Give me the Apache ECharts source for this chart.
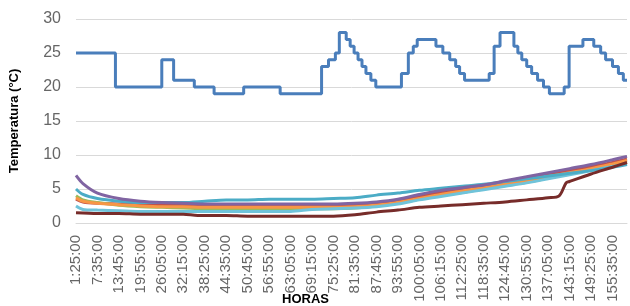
<!DOCTYPE html>
<html>
<head>
<meta charset="utf-8">
<script src="https://cdn.jsdelivr.net/npm/echarts@6/dist/echarts.min.js"></script>
<style>
  html, body { margin: 0; padding: 0; background: #fff; }
  #chart { width: 630px; height: 306px; }
</style>
</head>
<body>
<div id="chart"></div>
<script>
// time is minutes elapsed since 1:25:00
const startMinutes = 85;

// ambient / setpoint (stepped blue line)
const blueTimes = [0, 680, 1479, 1683, 2040, 2381, 2891, 3520, 4234, 4353, 4472, 4540, 4659, 4727, 4795, 4863, 4931, 4999, 5084, 5169,
    5611, 5730, 5815, 5883, 6206, 6325, 6444, 6546, 6614, 6699, 7124, 7209, 7311, 7550, 7618, 7686, 7771, 7856, 7958, 8060, 8162,
    8417, 8502, 8740, 8927, 9046, 9131, 9250, 9352, 9437, 9500];
const blueTemps = [25, 20, 24, 21, 20, 19, 20, 19, 23, 24, 25, 28, 27, 26, 25, 24, 23, 22, 21, 20,
    22, 25, 26, 27, 26, 25, 24, 23, 22, 21, 22, 26, 28, 26, 25, 24, 23, 22, 21, 20, 19,
    20, 26, 27, 26, 25, 24, 23, 22, 21, 21];

// product probes
const lowerTimes = [0, 120, 370, 740, 1110, 1480, 1850, 2220, 2590, 2960, 3330, 3700, 4070, 4440, 4810, 5180, 5550, 5920,
    6290, 6660, 7030, 7400, 7770, 8140, 8510, 8880, 9250, 9500];
const redTemps = [3.5, 3.1, 2.9, 2.8, 2.7, 2.6, 2.6, 2.6, 2.6, 2.6, 2.6, 2.6, 2.6, 2.6, 2.7, 2.9, 3.3, 3.9, 4.5, 5.0, 5.5, 6.0, 6.5, 7.1, 7.7, 8.3, 8.9, 9.4];
const greenTemps = [4.0, 3.4, 3.0, 2.6, 2.4, 2.3, 2.2, 2.1, 2.1, 2.1, 2.1, 2.1, 2.1, 2.1, 2.2, 2.5, 2.9, 3.5, 4.0, 4.5, 5.0, 5.5, 6.0, 6.6, 7.2, 7.8, 8.5, 9.0];
const orangeTemps = [3.7, 3.2, 2.9, 2.7, 2.5, 2.4, 2.4, 2.3, 2.3, 2.3, 2.3, 2.3, 2.3, 2.3, 2.4, 2.6, 3.0, 3.6, 4.2, 4.7, 5.2, 5.7, 6.2, 6.8, 7.4, 8.0, 8.7, 9.2];
const lightAquaTemps = [2.5, 2.0, 1.9, 1.8, 1.7, 1.7, 1.7, 1.7, 1.7, 1.7, 1.7, 1.7, 2.0, 2.1, 2.2, 2.4, 2.8, 3.4, 3.9, 4.4, 4.9, 5.4, 5.9, 6.5, 7.1, 7.7, 8.3, 8.7];
const aquaTemps = [5.0, 4.2, 3.6, 3.2, 3.0, 3.0, 3.0, 3.2, 3.4, 3.4, 3.5, 3.5, 3.5, 3.6, 3.7, 4.1, 4.4, 4.8, 5.1, 5.4, 5.7, 6.1, 6.5, 6.9, 7.3, 7.7, 8.2, 8.6];
const purpleTemps = [7.0, 5.8, 4.4, 3.6, 3.2, 3.0, 2.9, 2.8, 2.8, 2.8, 2.8, 2.8, 2.8, 2.8, 2.9, 3.1, 3.5, 4.2, 4.8, 5.2, 5.6, 6.2, 6.8, 7.4, 8.0, 8.6, 9.3, 9.8];

const darkRedTimes = [0, 370, 740, 1110, 1480, 1850, 2100, 2590, 2960, 3330, 3700, 4070, 4440, 4810, 5180, 5550, 5920, 6290,
    6660, 7030, 7400, 7770, 8140, 8330, 8450, 8510, 8880, 9250, 9500];
const darkRedTemps = [1.5, 1.4, 1.4, 1.3, 1.3, 1.3, 1.1, 1.1, 1.0, 1.0, 1.0, 1.0, 1.0, 1.2, 1.6, 1.9, 2.3, 2.5,
    2.7, 2.9, 3.1, 3.4, 3.7, 4.0, 5.9, 6.1, 7.2, 8.2, 8.9];

const lastMinute = 9500;
const tickStep = 370;

function pairs(times, values) {
    return times.map((t, i) => [t, values[i]]);
}

function clockLabel(value) {
    let total = Math.round(value) + startMinutes;
    let h = Math.floor(total / 60);
    let m = total % 60;
    return h + ":" + (m < 10 ? "0" + m : m) + ":00";
}

function probe(color, times, values) {
    return {
        type: "line",
        data: pairs(times, values),
        showSymbol: false,
        smooth: 0.3,
        lineStyle: { color: color, width: 3 },
        itemStyle: { color: color }
    };
}

const chart = echarts.init(document.getElementById("chart"), null, { renderer: "canvas" });

chart.setOption({
    animation: false,
    grid: { left: 68, right: 3, top: 19, bottom: 83 },
    xAxis: {
        type: "value",
        min: 0,
        max: lastMinute,
        interval: tickStep,
        axisLine: { show: true, lineStyle: { color: "#d9d9d9", width: 1 } },
        axisTick: { show: false },
        splitLine: { show: false },
        axisLabel: {
            rotate: 90,
            margin: 12,
            color: "#666",
            fontSize: 15,
            fontFamily: "Liberation Sans",
            showMaxLabel: false,
            formatter: clockLabel
        }
    },
    yAxis: {
        type: "value",
        min: 0,
        max: 30,
        interval: 5,
        name: "Temperatura (°C)",
        nameLocation: "middle",
        nameRotate: 90,
        nameGap: 55,
        nameTextStyle: { color: "#000", fontWeight: "bold", fontSize: 13, fontFamily: "Liberation Sans" },
        axisLine: { show: false },
        axisTick: { show: false },
        axisLabel: { color: "#666", fontSize: 16, margin: 15, fontFamily: "Liberation Sans" },
        splitLine: { lineStyle: { color: "#d9d9d9", width: 1 } }
    },
    graphic: [{
        type: "text",
        left: 282,
        top: 293,
        style: { text: "HORAS", font: "bold 13px 'Liberation Sans'", fill: "#000" }
    }],
    series: [
        {
            type: "line",
            data: pairs(blueTimes, blueTemps),
            step: "end",
            showSymbol: false,
            lineStyle: { color: "#4a7ebb", width: 3 },
            itemStyle: { color: "#4a7ebb" }
        },
        probe("#c0504d", lowerTimes, redTemps),
        probe("#9bbb59", lowerTimes, greenTemps),
        probe("#f79646", lowerTimes, orangeTemps),
        probe("#6fc3da", lowerTimes, lightAquaTemps),
        probe("#4bacc6", lowerTimes, aquaTemps),
        probe("#8064a2", lowerTimes, purpleTemps),
        probe("#772c2a", darkRedTimes, darkRedTemps)
    ]
});
</script>
</body>
</html>
